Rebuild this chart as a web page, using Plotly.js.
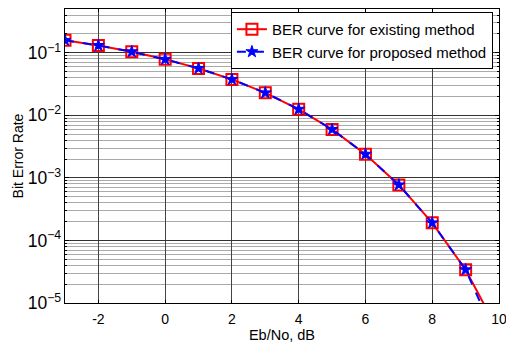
<!DOCTYPE html>
<html>
<head>
<meta charset="utf-8">
<script src="https://cdn.plot.ly/plotly-3.0.1.min.js"></script>
<style>html,body{margin:0;padding:0;background:#fff;}#chart{width:506px;height:343px;}</style>
</head>
<body>
<div id="chart"></div>
<script>
// Eb/No values (dB)
const ebno = [-3, -2, -1, 0, 1, 2, 3, 4, 5, 6, 7, 8, 9, 10];
// BER curve for existing method
const berExisting = [0.158, 0.131, 0.104, 0.0786, 0.0563, 0.0375, 0.0229, 0.0125, 0.00595, 0.00239, 7.73e-4, 1.91e-4, 3.4e-5, 3.4e-6];
// BER curve for proposed method
const berProposed = [0.158, 0.131, 0.104, 0.0786, 0.0563, 0.0375, 0.0229, 0.0125, 0.00595, 0.00239, 7.73e-4, 1.91e-4, 3.4e-5, 2.2e-6];
const seriesNames = ['BER curve for existing method', 'BER curve for proposed method'];
const xTicks = [-2, 0, 2, 4, 6, 8, 10];

const traces = [
  {
    x: ebno, y: berExisting, name: seriesNames[0], type: 'scatter', mode: 'lines+markers',
    line: {color: '#ff0000', width: 2},
    marker: {symbol: 'square-open', size: 11, color: '#ff0000', line: {color: '#ff0000', width: 2}}
  },
  {
    x: ebno, y: berProposed, name: seriesNames[1], type: 'scatter', mode: 'lines+markers',
    line: {color: '#0000ff', width: 2, dash: 'dash'},
    marker: {symbol: 'star', size: 9, color: '#0000ff', line: {color: '#0000ff', width: 1}}
  }
];

const layout = {
  width: 506, height: 343,
  margin: {l: 65, r: 7, t: 9, b: 40},
  paper_bgcolor: '#ffffff', plot_bgcolor: '#ffffff',
  font: {family: 'Liberation Sans, Arial, sans-serif', size: 14, color: '#000'},
  showlegend: true,
  legend: {
    x: 0.986, y: 0.99, xanchor: 'right', yanchor: 'top',
    bgcolor: '#ffffff', bordercolor: '#000000', borderwidth: 1,
    font: {size: 15, color: '#000'}, tracegroupgap: 0
  },
  xaxis: {
    range: [-3, 10], tickvals: xTicks, ticktext: xTicks.map(String),
    showgrid: true, gridcolor: '#444444', gridwidth: 1,
    showline: true, linecolor: '#000', linewidth: 1, mirror: 'ticks',
    ticks: 'inside', ticklen: 3, tickcolor: '#000',
    zeroline: false, automargin: false,
    ticklabeloverflow: 'allow', ticklabelstandoff: 3,
    tickfont: {size: 14},
    title: {text: 'Eb/No, dB', font: {size: 14.5}, standoff: 9}
  },
  yaxis: {
    type: 'log', range: [-5, -0.3], dtick: 1, exponentformat: 'power',
    showgrid: true, gridcolor: '#333333', gridwidth: 1,
    minor: {showgrid: true, dtick: 'D1', gridcolor: '#aaaaaa', gridwidth: 1, ticks: 'inside', ticklen: 2, tickcolor: '#000'},
    showline: true, linecolor: '#000', linewidth: 1, mirror: 'ticks',
    ticks: 'inside', ticklen: 4, tickcolor: '#000',
    zeroline: false, automargin: false,
    tickfont: {size: 14},
    title: {text: 'Bit Error Rate', font: {size: 14}, standoff: 0}
  }
};

Plotly.newPlot('chart', traces, layout, {displayModeBar: false, staticPlot: true});
</script>
</body>
</html>
